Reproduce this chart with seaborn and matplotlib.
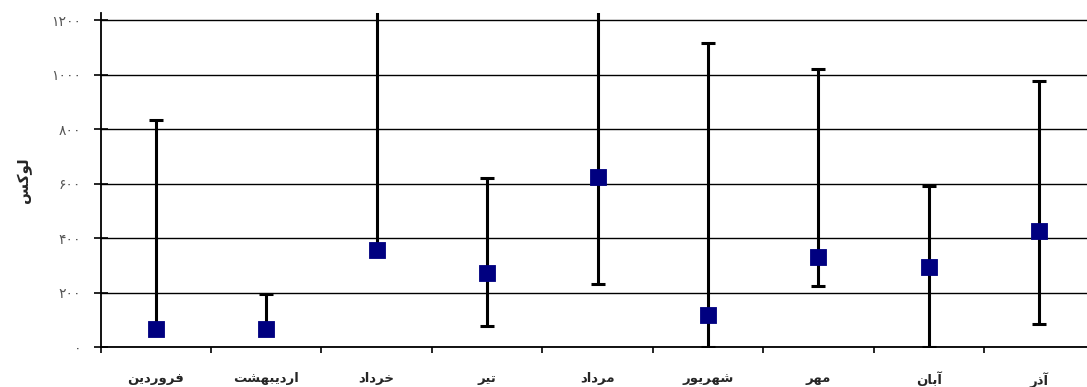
import matplotlib
matplotlib.use("Agg")
import matplotlib.pyplot as plt
import seaborn as sns
import numpy as np
import pandas as pd

# Monthly illuminance: mean with minimum and maximum readings
months = ["فروردین", "اردیبهشت", "خرداد", "تیر", "مرداد", "شهریور", "مهر", "آبان", "آذر"]
mean_vals = [66, 66, 356, 272, 624, 117, 330, 294, 426]
low_vals = [66, 66, 356, 77, 231, 0, 224, 0, 84]
high_vals = [833, 195, 1300, 620, 1300, 1116, 1020, 591, 976]
y_ticks = [0, 200, 400, 600, 800, 1000, 1200]
y_label = "لوکس"

# --- minimal Arabic-script shaping (presentation forms, visual order) ---
FORMS = {
    "آ": ("\uFE81", "\uFE82", None, None),
    "ا": ("\uFE8D", "\uFE8E", None, None),
    "ب": ("\uFE8F", "\uFE90", "\uFE91", "\uFE92"),
    "ت": ("\uFE95", "\uFE96", "\uFE97", "\uFE98"),
    "خ": ("\uFEA5", "\uFEA6", "\uFEA7", "\uFEA8"),
    "د": ("\uFEA9", "\uFEAA", None, None),
    "ذ": ("\uFEAB", "\uFEAC", None, None),
    "ر": ("\uFEAD", "\uFEAE", None, None),
    "ز": ("\uFEAF", "\uFEB0", None, None),
    "س": ("\uFEB1", "\uFEB2", "\uFEB3", "\uFEB4"),
    "ش": ("\uFEB5", "\uFEB6", "\uFEB7", "\uFEB8"),
    "ف": ("\uFED1", "\uFED2", "\uFED3", "\uFED4"),
    "ل": ("\uFEDD", "\uFEDE", "\uFEDF", "\uFEE0"),
    "م": ("\uFEE1", "\uFEE2", "\uFEE3", "\uFEE4"),
    "ن": ("\uFEE5", "\uFEE6", "\uFEE7", "\uFEE8"),
    "ه": ("\uFEE9", "\uFEEA", "\uFEEB", "\uFEEC"),
    "و": ("\uFEED", "\uFEEE", None, None),
    "ی": ("\uFBFC", "\uFBFD", "\uFBFE", "\uFBFF"),
    "ک": ("\uFB8E", "\uFB8F", "\uFB90", "\uFB91"),
}


def shape(word):
    out = []
    n = len(word)
    for i, ch in enumerate(word):
        f = FORMS.get(ch)
        if f is None:
            out.append(ch)
            continue
        prev = word[i - 1] if i > 0 else None
        nxt = word[i + 1] if i < n - 1 else None
        join_prev = prev in FORMS and FORMS[prev][2] is not None
        join_next = nxt in FORMS and f[2] is not None
        if join_prev and join_next:
            out.append(f[3])
        elif join_prev:
            out.append(f[1])
        elif join_next:
            out.append(f[2])
        else:
            out.append(f[0])
    return "".join(reversed(out))


def fa_digits(v):
    return str(v).translate(str.maketrans("0123456789", "۰۱۲۳۴۵۶۷۸۹"))


df = pd.DataFrame({"month": months, "mean": mean_vals, "low": low_vals, "high": high_vals})

sns.set_style("white")
plt.rcParams["font.family"] = ["DejaVu Sans"]

fig = plt.figure(figsize=(10.87, 3.87), dpi=100)
ax = fig.add_axes([100.5 / 1087, 40 / 387, 994 / 1087, 334 / 387])

# error bars (min to max)
yerr = [df["mean"] - df["low"], df["high"] - df["mean"]]
ax.errorbar(df["month"], df["mean"], yerr=yerr, fmt="none", ecolor="black",
            elinewidth=2.2, capsize=4.7, capthick=2.2, zorder=3)

sns.scatterplot(data=df, x="month", y="mean", marker="s", s=140,
                color="#000080", edgecolor="#000080", linewidth=0.6,
                ax=ax, zorder=4, legend=False)

ax.set_xlim(-0.5, len(months) - 0.5)
ax.set_ylim(0, 1226)
ax.set_yticks(y_ticks)
ax.set_yticklabels([fa_digits(v) for v in y_ticks], fontsize=10, color="#555555")
ax.yaxis.grid(True, color="black", linewidth=1.0)
ax.xaxis.grid(False)
ax.set_axisbelow(True)

ax.set_xticks(range(len(months)))
ax.set_xticklabels([shape(m) for m in months], fontsize=9.5, fontweight="bold")
ax.set_xticks(np.arange(-0.5, len(months), 1.0), minor=True)
ax.tick_params(axis="x", which="major", length=0, pad=18)
ax.tick_params(axis="x", which="minor", length=4, width=1.2, direction="out",
               color="black", bottom=True)
ax.tick_params(axis="y", which="major", length=10, width=1.2, direction="inout",
               color="black", left=True, pad=9)

for side in ["top", "right"]:
    ax.spines[side].set_visible(False)
for side in ["left", "bottom"]:
    ax.spines[side].set_color("black")
    ax.spines[side].set_linewidth(1.3)

ax.set_xlabel("")
ax.set_ylabel(shape(y_label), fontsize=11, fontweight="bold", labelpad=14)

fig.savefig("out.png", dpi=100)
